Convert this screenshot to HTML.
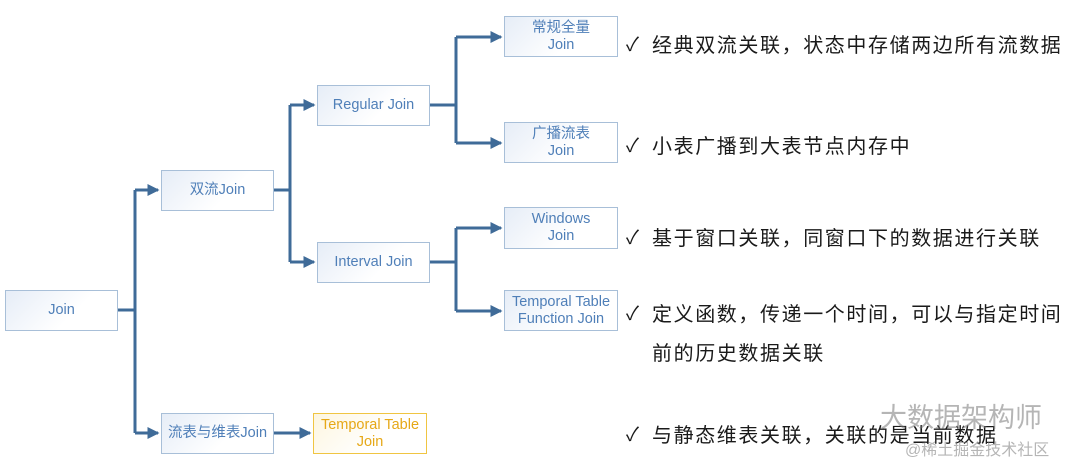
<!DOCTYPE html>
<html><head><meta charset="utf-8"><style>
body{margin:0;width:1080px;height:464px;background:#fff;position:relative;overflow:hidden;font-family:"Liberation Sans","Noto Sans CJK SC",sans-serif}
.b{position:absolute;box-sizing:border-box;border:1.5px solid #a8bfd8;background:linear-gradient(135deg,#e6edf7,#fff 60%);color:#4f7fb8;font-size:14.5px;display:flex;align-items:center;justify-content:center;text-align:center;line-height:17px}
.y{border-color:#f0c542;color:#e6a817;background:linear-gradient(135deg,#fdf6e0,#fff 60%)}
.t{position:absolute;left:652px;font-size:20px;letter-spacing:1.6px;color:#1a1a1a;white-space:nowrap;font-family:"Liberation Sans","Noto Sans CJK SC",sans-serif}
.c{position:absolute;left:626px;font-size:19px;color:#1a1a1a}
svg{position:absolute;left:0;top:0}
</style></head><body>
<svg width="1080" height="464">
<defs><marker id="a" markerWidth="4" markerHeight="4" refX="3.5" refY="2" orient="auto"><path d="M0,0L4,2L0,4z" fill="#3f6b98"/></marker></defs>
<g stroke="#3f6b98" stroke-width="3" fill="none">
<path d="M118,310H135"/><path d="M135,190V433"/>
<path d="M135,190H158" marker-end="url(#a)"/><path d="M135,433H158" marker-end="url(#a)"/>
<path d="M274,433H310" marker-end="url(#a)"/>
<path d="M274,190H290"/><path d="M290,105V262"/>
<path d="M290,105H314" marker-end="url(#a)"/><path d="M290,262H314" marker-end="url(#a)"/>
<path d="M430,105H456"/><path d="M456,37V143"/>
<path d="M456,37H501" marker-end="url(#a)"/><path d="M456,143H501" marker-end="url(#a)"/>
<path d="M430,262H456"/><path d="M456,228V311"/>
<path d="M456,228H501" marker-end="url(#a)"/><path d="M456,311H501" marker-end="url(#a)"/>
</g></svg>
<div class="b" style="left:5px;top:290px;width:113px;height:41px">Join</div>
<div class="b" style="left:161px;top:170px;width:113px;height:41px">双流Join</div>
<div class="b" style="left:161px;top:413px;width:113px;height:41px">流表与维表Join</div>
<div class="b y" style="left:313px;top:413px;width:114px;height:41px">Temporal Table<br>Join</div>
<div class="b" style="left:317px;top:85px;width:113px;height:41px">Regular Join</div>
<div class="b" style="left:317px;top:242px;width:113px;height:41px">Interval Join</div>
<div class="b" style="left:504px;top:16px;width:114px;height:41px">常规全量<br>Join</div>
<div class="b" style="left:504px;top:122px;width:114px;height:41px">广播流表<br>Join</div>
<div class="b" style="left:504px;top:207px;width:114px;height:42px">Windows<br>Join</div>
<div class="b" style="left:504px;top:290px;width:114px;height:41px">Temporal Table<br>Function Join</div>
<div class="c" style="top:30px">✓</div><div class="t" style="top:29px">经典双流关联，状态中存储两边所有流数据</div>
<div class="c" style="top:131px">✓</div><div class="t" style="top:130px">小表广播到大表节点内存中</div>
<div class="c" style="top:223px">✓</div><div class="t" style="top:222px">基于窗口关联，同窗口下的数据进行关联</div>
<div class="c" style="top:299px">✓</div><div class="t" style="top:298px">定义函数，传递一个时间，可以与指定时间</div>
<div class="t" style="top:337px">前的历史数据关联</div>
<div class="c" style="top:420px">✓</div><div class="t" style="top:419px">与静态维表关联，关联的是当前数据</div>
<div style="position:absolute;left:880px;top:396px;font-size:27px;color:rgba(120,120,120,.55)">大数据架构师</div>
<div style="position:absolute;left:905px;top:436px;font-size:16px;color:rgba(120,120,120,.55)">@稀土掘金技术社区</div>
</body></html>
